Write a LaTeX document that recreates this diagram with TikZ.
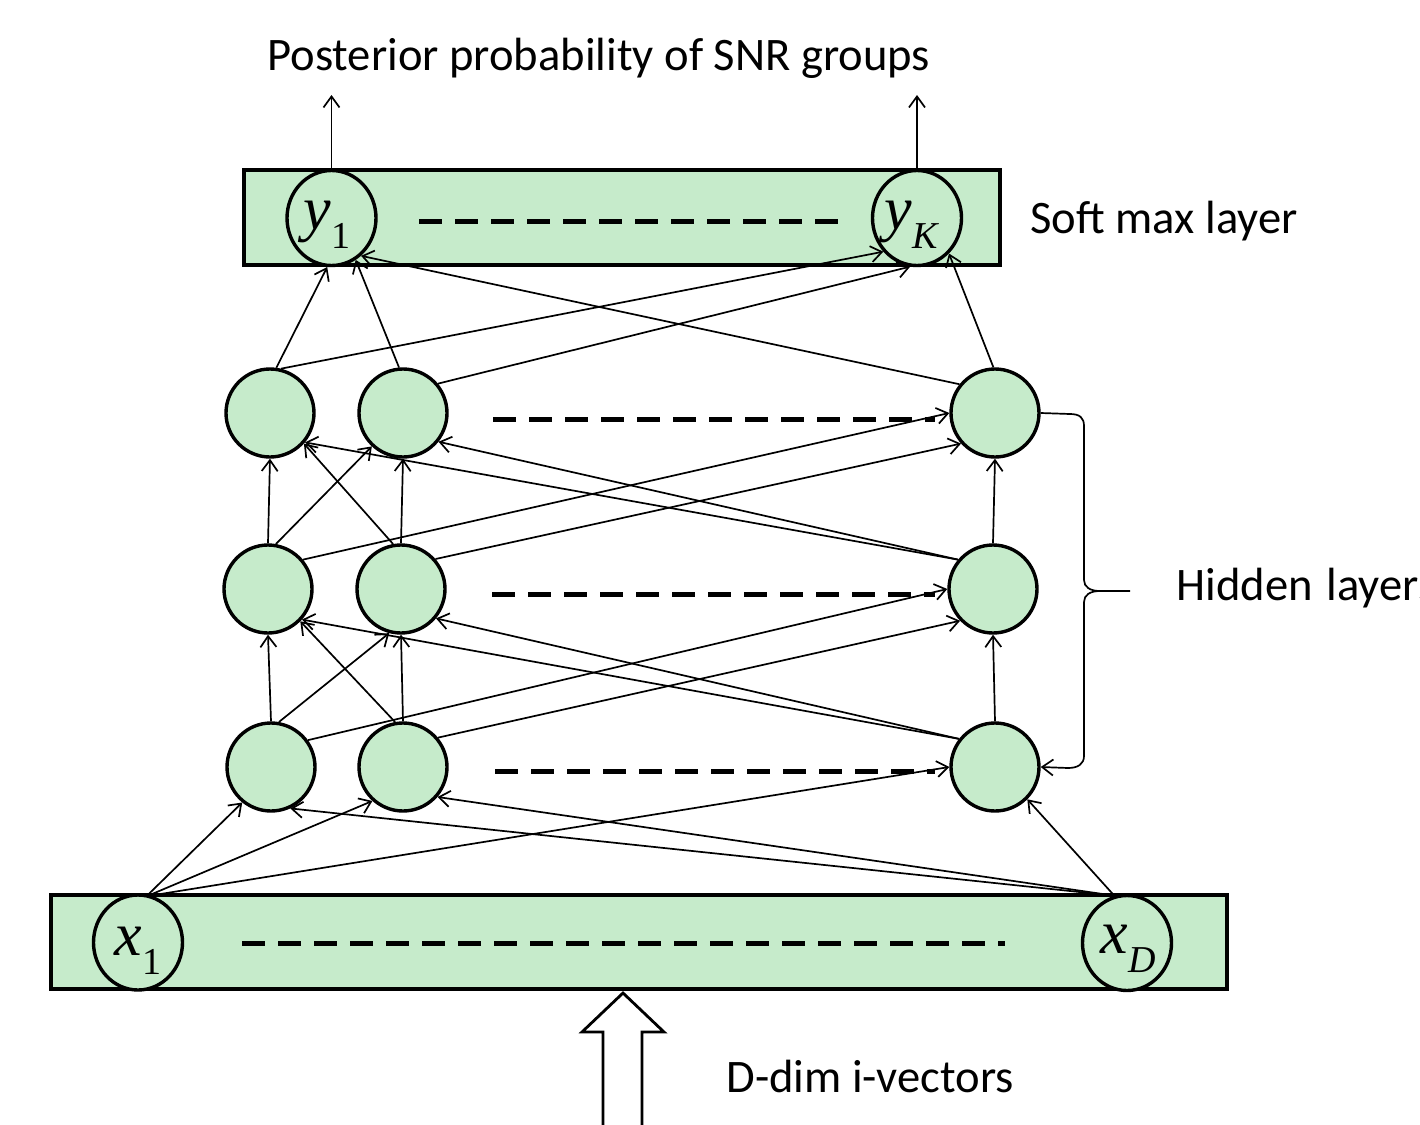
\documentclass[tikz,border=0pt]{standalone}
\usepackage{fontspec}
\setmainfont{Carlito}
\newfontfamily\timesfont{Liberation Serif}
\usetikzlibrary{arrows.meta,shapes.geometric}
\definecolor{neuronfill}{RGB}{198,235,203}

% unit label: italic letter with a lowered subscript
\newcommand{\unitlabel}[2]{{\fontsize{31}{31}\selectfont\timesfont\itshape #1}\raisebox{-9.5pt}{\fontsize{19}{19}\selectfont\timesfont #2}}

\begin{document}
\begin{tikzpicture}[x=0.5pt,y=-0.5pt,
  layerbox/.style={rectangle, draw=black, line width=2pt, fill=neuronfill, inner sep=0pt},
  unit/.style={circle, draw=black, line width=1.7pt, fill=neuronfill, minimum size=44pt, inner sep=0pt},
  iounit/.style={ellipse, draw=black, line width=1.7pt, fill=neuronfill, minimum width=44.5pt, minimum height=47.5pt, inner sep=0pt},
  link/.style={line width=0.85pt, -{Straight Barb[length=5.5pt,width=8pt]}},
  dots/.style={line width=2.5pt, dash pattern=on 11.5pt off 6.5pt},
  caption/.style={anchor=base west, font=\fontsize{23.3}{27}\selectfont, inner sep=0pt},
  sublabel/.style={anchor=base, inner sep=0pt}
]
\useasboundingbox (0,0) rectangle (1420,1125);
\clip (0,0) rectangle (1420,1125);

% layer boxes
\node[layerbox, minimum width=378pt, minimum height=47.5pt] (softmax) at (622,217.5) {};
\node[layerbox, minimum width=588pt, minimum height=47pt] (input) at (639,942) {};

% output and input units
\node[iounit] (y1) at (331.5,218) {};
\node[iounit] (yK) at (917,218) {};
\node[iounit] (x1) at (138,942.5) {};
\node[iounit] (xD) at (1127,943) {};
\node[sublabel] (y1text) at (327,229) {\unitlabel{y}{1}};
\node[sublabel] (yKtext) at (911,229) {\unitlabel{y}{\itshape K}};
\node[sublabel] (x1text) at (138,955) {\unitlabel{x}{1}};
\node[sublabel] (xDtext) at (1128,953) {\unitlabel{x}{\itshape D}};

% hidden units
\node[unit] (h31) at (270,413) {};
\node[unit] (h32) at (403,413) {};
\node[unit] (h33) at (995,413) {};
\node[unit] (h21) at (268,589) {};
\node[unit] (h22) at (401,589) {};
\node[unit] (h23) at (993,589) {};
\node[unit] (h11) at (271,767) {};
\node[unit] (h12) at (403,767) {};
\node[unit] (h13) at (995,767) {};

% ellipsis dashes
\draw[dots] (419,221) -- (840,221);
\draw[dots] (493,419) -- (935,419);
\draw[dots] (492,594) -- (935,594);
\draw[dots] (495,771) -- (935,771);
\draw[dots] (242,943) -- (1005,943);

% input -> hidden layer 1
\draw[link] (x1.78) -- (h11.231);
\draw[link] (x1.76) -- (h12.228);
\draw[link] (x1.74) -- (h13.west);
\draw[link] (xD.105) -- (h11.295);
\draw[link] (xD.105) -- (h12.319);
\draw[link] (xD.105) -- (h13.315);

% hidden layer 1 -> hidden layer 2
\draw[link] (h11.north) -- (h21.south);
\draw[link] (h11.80) -- (h22.255);
\draw[link] (h11.36) -- (h23.west);
\draw[link] (h12.north) -- (h22.south);
\draw[link] (h12.100) -- (h21.315);
\draw[link] (h12.40) -- (h23.224);
\draw[link] (h13.142) -- (h21.318);
\draw[link] (h13.142) -- (h22.320);
\draw[link] (h13.north) -- (h23.south);

% hidden layer 2 -> hidden layer 3
\draw[link] (h21.north) -- (h31.south);
\draw[link] (h21.80) -- (h32.227);
\draw[link] (h21.40) -- (h33.west);
\draw[link] (h22.north) -- (h32.south);
\draw[link] (h22.100) -- (h31.318);
\draw[link] (h22.41) -- (h33.222);
\draw[link] (h23.140) -- (h31.320);
\draw[link] (h23.140) -- (h32.321);
\draw[link] (h23.north) -- (h33.south);

% hidden layer 3 -> soft max
\draw[link] (h31.82) -- (y1.265);
\draw[link] (h31.76) -- (yK.225);
\draw[link] (h32.95) -- (y1.300);
\draw[link] (h32.40) -- (yK.262);
\draw[link] (h33.141) -- (y1.308);
\draw[link] (h33.92) -- (yK.312);

% outputs
\coordinate (out1) at (331.5,95);
\coordinate (outK) at (917,95);
\draw[link] (y1.north) -- (out1);
\draw[link] (yK.north) -- (outK);

% brace over the hidden layers
\coordinate (bracecusp) at (1100,591);
\coordinate (bracetip) at (1130,591);
\draw[line width=0.85pt] (h33.east) -- (1070,414) .. controls (1080,414) and (1084,418) .. (1084,426)
  -- (1084,580) .. controls (1084,587) and (1090,591) .. (bracecusp) -- (bracetip);
\draw[link] (bracecusp) .. controls (1090,591) and (1084,595) .. (1084,602)
  -- (1084,756) .. controls (1084,764) and (1078,768) .. (1068,768) -- (h13.east);

% input block arrow
\draw[line width=1.4pt, fill=white] (623,993) -- (664,1032) -- (642,1032) -- (642,1135)
  -- (603,1135) -- (603,1032) -- (582,1032) -- cycle;

% captions
\node[caption] (outcap) at (267,70) {Posterior probability of SNR groups};
\node[caption] (smcap) at (1030,233) {Soft max layer};
\node[caption] (hidcap) at (1176,600) {Hidden\hspace{7pt}layers};
\node[caption] (incap) at (726,1092) {D-dim i-vectors};
\end{tikzpicture}
\end{document}
